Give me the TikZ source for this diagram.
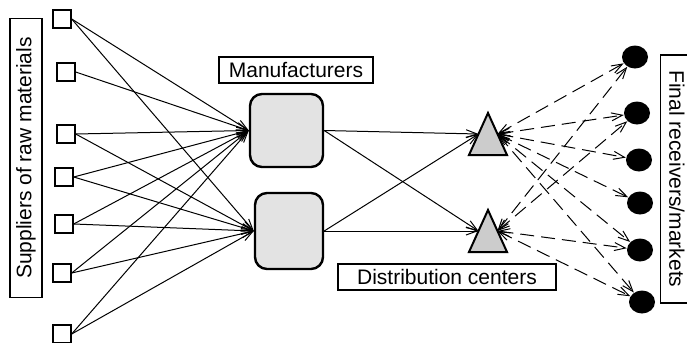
\documentclass[tikz,border=0pt]{standalone}
\usepackage{fontspec}
\setmainfont{Liberation Sans}
\usetikzlibrary{arrows.meta,shapes.geometric,calc}

\tikzset{
  supplier/.style={draw, line width=1pt, minimum size=8.7pt, inner sep=0pt, fill=white},
  maker/.style={draw, line width=1.2pt, rounded corners=6pt, fill=gray!22, inner sep=0pt},
  dcbox/.style={minimum width=19pt, minimum height=21pt, inner sep=0pt, outer sep=0pt},
  dcshape/.style={draw, line width=1pt, fill=gray!40},
  market/.style={ellipse, fill=black, minimum width=13pt, minimum height=11.5pt, inner sep=0pt},
  tagbox/.style={draw, line width=0.6pt, inner sep=0pt, minimum height=13pt},
  tip/.tip={Straight Barb[length=5.5pt,width=4pt]},
  flow/.style={line width=0.5pt, -tip},
  backflow/.style={line width=0.5pt, dash pattern=on 7pt off 3.5pt, tip-tip},
}

\begin{document}
\begin{tikzpicture}[x=0.5pt, y=-0.5pt, font=\fontsize{10.5}{12}\selectfont]
\useasboundingbox (0,0) rectangle (687,343);
\clip (0,0) rectangle (687,343);

% suppliers of raw materials
\node[supplier] (S1) at (62,19) {};
\node[supplier] (S2) at (66,72) {};
\node[supplier] (S3) at (66,134) {};
\node[supplier] (S4) at (64,177) {};
\node[supplier] (S5) at (64,224) {};
\node[supplier] (S6) at (62,273) {};
\node[supplier] (S7) at (62,334) {};

% manufacturers
\node[maker, minimum width=36.5pt, minimum height=36.5pt] (M1) at (286.5,130.5) {};
\node[maker, minimum width=34pt, minimum height=38pt] (M2) at (289,231) {};

% distribution centers (triangles)
\node[dcbox] (T1) at (488,134) {};
\node[dcbox] (T2) at (488,231) {};
\draw[dcshape] (T1.south west) -- (T1.north) -- (T1.south east) -- cycle;
\draw[dcshape] (T2.south west) -- (T2.north) -- (T2.south east) -- cycle;
\coordinate (T1in)  at ($(T1.north)!0.5!(T1.south west)$);
\coordinate (T1out) at ($(T1.north)!0.5!(T1.south east)$);
\coordinate (T2in)  at ($(T2.north)!0.5!(T2.south west)$);
\coordinate (T2out) at ($(T2.north)!0.5!(T2.south east)$);

% final receivers / markets
\node[market] (C1) at (635,57) {};
\node[market] (C2) at (637,113) {};
\node[market] (C3) at (639,160) {};
\node[market] (C4) at (640,203) {};
\node[market] (C5) at (640,250) {};
\node[market] (C6) at (642,302) {};

% captions
\node[tagbox, minimum width=77pt] (LM) at (296,70) {Manufacturers};
\node[tagbox, minimum width=109pt] (LD) at (447,277) {Distribution centers};
\node[tagbox, rotate=90, minimum width=139.5pt, minimum height=16pt] (LS) at (26,158) {Suppliers of raw materials};
\node[tagbox, rotate=-90, minimum width=124pt, minimum height=16.5pt] (LF) at (677,179) {Final receivers/markets};

% material flows: suppliers to manufacturers
\foreach \s in {1,...,7} \draw[flow] (S\s.east) -- (M1.west);
\foreach \s in {1,3,4,5,6,7} \draw[flow] (S\s.east) -- (M2.west);

% manufacturers to distribution centers
\draw[flow] (M1.east) -- (T1in);
\draw[flow] (M1.east) -- (T2in);
\draw[flow] (M2.east) -- (T1in);
\draw[flow] (M2.east) -- (T2in);

% two-way flows between distribution centers and markets
\foreach \c in {1,...,6} \draw[backflow] (T1out) -- (C\c);
\foreach \c in {1,2,5,6} \draw[backflow] (T2out) -- (C\c);
\end{tikzpicture}
\end{document}
